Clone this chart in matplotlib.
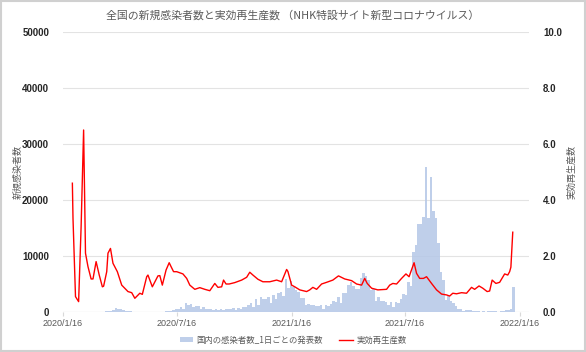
"""全国の新規感染者数と実効再生産数 (NHK) chart."""

import matplotlib

matplotlib.use("Agg")
import matplotlib.pyplot as plt
import numpy as np
import pandas as pd

plt.rcParams["font.family"] = ["Noto Sans CJK JP", "DejaVu Sans"]

# daily new cases, sampled every 4 days from 2020-01-17 to 2022-01-06
case_dates = pd.date_range("2020-01-17", periods=181, freq="4D")
cases = [
    0, 0, 1, 3, 0, 5, 3, 8, 10, 20, 15, 15, 30, 30, 50, 40, 50, 90, 170, 250,
    330, 650, 450, 580, 390, 200, 190, 90, 80, 50, 30, 30, 20, 40, 30, 50, 40, 50, 40, 60,
    80, 90, 250, 210, 400, 450, 510, 980, 600, 1550, 1200, 1500, 970, 1000, 1150, 500, 870, 600, 600, 500,
    440, 520, 370, 550, 400, 560, 520, 460, 720, 310, 750, 620, 860, 860, 1250, 1650, 950, 2300, 1230, 2600,
    2400, 2400, 2750, 1680, 2950, 2290, 3400, 3500, 2900, 5900, 4300, 5600, 4500, 4000, 3600, 2500, 2500, 1220, 1360, 1300,
    1250, 1080, 990, 1170, 600, 1310, 1050, 1480, 1910, 1790, 2600, 1570, 3450, 3450, 4800, 5290, 4600, 4080, 4080, 6050,
    7000, 6420, 5700, 4000, 4130, 1990, 2660, 1980, 1940, 1800, 1300, 1700, 970, 1780, 1540, 2280, 3200, 3100, 5400, 4690,
    10780, 12000, 15750, 15800, 17000, 25900, 16800, 24100, 18000, 16700, 12400, 7200, 5700, 2200, 2870, 2050, 1600, 1130, 600, 620,
    230, 330, 300, 280, 160, 160, 200, 80, 150, 80, 120, 130, 130, 150, 80, 180, 180, 320, 400, 550,
    4470,
]

# effective reproduction number
r_dates = [
    "2020-01-31", "2020-02-01", "2020-02-05", "2020-02-10", "2020-02-14", "2020-02-18", "2020-02-21",
    "2020-02-25", "2020-03-01", "2020-03-04", "2020-03-09", "2020-03-14", "2020-03-19", "2020-03-21",
    "2020-03-26", "2020-03-28", "2020-04-01", "2020-04-05", "2020-04-12", "2020-04-19", "2020-04-29",
    "2020-05-05", "2020-05-10", "2020-05-18", "2020-05-22", "2020-05-29", "2020-05-31", "2020-06-07",
    "2020-06-16", "2020-06-19", "2020-06-23", "2020-06-29", "2020-07-04", "2020-07-07", "2020-07-11",
    "2020-07-16", "2020-07-26", "2020-08-01", "2020-08-06", "2020-08-14", "2020-08-22", "2020-08-30",
    "2020-09-07", "2020-09-15", "2020-09-20", "2020-09-26", "2020-09-29", "2020-10-03", "2020-10-08",
    "2020-10-17", "2020-10-28", "2020-11-05", "2020-11-10", "2020-11-15", "2020-11-23", "2020-12-01",
    "2020-12-12", "2020-12-23", "2020-12-31", "2021-01-08", "2021-01-10", "2021-01-16", "2021-01-21",
    "2021-01-29", "2021-02-09", "2021-02-14", "2021-02-19", "2021-02-25", "2021-03-05", "2021-03-13",
    "2021-03-23", "2021-04-01", "2021-04-11", "2021-04-22", "2021-04-30", "2021-05-08", "2021-05-13",
    "2021-05-17", "2021-05-24", "2021-06-03", "2021-06-17", "2021-06-22", "2021-06-27", "2021-07-03",
    "2021-07-11", "2021-07-18", "2021-07-23", "2021-07-31", "2021-08-04", "2021-08-09", "2021-08-15",
    "2021-08-20", "2021-08-28", "2021-09-05", "2021-09-13", "2021-09-21", "2021-09-26", "2021-10-01",
    "2021-10-07", "2021-10-15", "2021-10-23", "2021-10-31", "2021-11-05", "2021-11-12", "2021-11-18",
    "2021-11-25", "2021-11-29", "2021-12-03", "2021-12-09", "2021-12-15", "2021-12-23", "2021-12-28",
    "2021-12-31", "2022-01-02", "2022-01-05",
]
r_values = [
    4.6, 3.35, 0.55, 0.37, 3.05, 6.5, 2.1,
    1.62, 1.18, 1.18, 1.8, 1.32, 0.9, 0.92,
    1.44, 2.1, 2.27, 1.74, 1.44, 0.96, 0.73,
    0.69, 0.49, 0.67, 0.63, 1.26, 1.32, 0.9,
    1.29, 1.3, 0.96, 1.5, 1.76, 1.62, 1.44,
    1.44, 1.36, 1.2, 0.96, 0.81, 0.87, 0.81,
    0.76, 1.02, 0.88, 0.9, 1.14, 1.0, 1.0,
    1.05, 1.14, 1.24, 1.42, 1.32, 1.17, 1.08,
    1.08, 1.14, 1.08, 1.52, 1.45, 0.96, 0.9,
    0.79, 0.73, 0.79, 0.88, 0.81, 1.0, 1.06,
    1.14, 1.29, 1.18, 1.12, 1.0, 0.96, 1.2,
    1.02, 0.85, 0.79, 0.81, 0.96, 1.02, 1.0,
    1.2, 1.36, 1.26, 1.76, 1.38, 1.2, 1.2,
    1.26, 1.02, 0.79, 0.64, 0.61, 0.57, 0.67,
    0.65, 0.69, 0.67, 0.88, 0.81, 0.93, 0.85,
    0.73, 0.75, 1.14, 1.02, 1.06, 1.36, 1.32,
    1.44, 1.6, 2.85,
]

x_ticks = ["2020-01-16", "2020-07-16", "2021-01-16", "2021-07-16", "2022-01-16"]
x_tick_labels = ["2020/1/16", "2020/7/16", "2021/1/16", "2021/7/16", "2022/1/16"]

TITLE = "全国の新規感染者数と実効再生産数 （NHK特設サイト新型コロナウイルス）"
TEXT = "#595959"


def main() -> None:
    fig = plt.figure(figsize=(5.86, 3.52), dpi=100)
    fig.patch.set_facecolor("white")
    ax = fig.add_axes([63 / 586, 1 - 312 / 352, 466 / 586, 280 / 352])
    ax2 = ax.twinx()

    ax.bar(case_dates, cases, width=3.8, color="#b4c7e7", alpha=0.85, linewidth=0,
           label="国内の感染者数_1日ごとの発表数", zorder=2)
    ax2.plot(pd.to_datetime(r_dates), r_values, color="#ff0000", lw=1.0,
             label="実効再生産数", zorder=3)

    ax.set_xlim(pd.Timestamp("2020-01-16"), pd.Timestamp("2022-01-31"))
    ax.set_ylim(0, 50000)
    ax2.set_ylim(0, 10)
    ax.set_yticks(np.arange(0, 50001, 10000))
    ax2.set_yticks(np.arange(0, 10.1, 2))
    ax2.set_yticklabels([f"{v:.1f}" for v in np.arange(0, 10.1, 2)])
    ax.set_xticks(pd.to_datetime(x_ticks))
    ax.set_xticklabels(x_tick_labels)

    ax.grid(axis="y", color="#e3e3e3", lw=0.8, zorder=0)
    ax.set_axisbelow(True)
    for a in (ax, ax2):
        for spine in a.spines.values():
            spine.set_visible(False)
    ax.axhline(0, color="#d9d9d9", lw=0.8, zorder=1)

    ax.tick_params(axis="y", length=0, pad=10, labelsize=7, labelcolor="#262626")
    ax2.tick_params(axis="y", length=0, pad=10, labelsize=7, labelcolor="#262626")
    for lab in ax.get_yticklabels() + ax2.get_yticklabels():
        lab.set_fontweight("bold")
        lab.set_family(["Liberation Sans", "DejaVu Sans"])
    ax.tick_params(axis="x", length=3, color="#d9d9d9", pad=2, labelsize=6.5, labelcolor=TEXT)
    for lab in ax.get_xticklabels():
        lab.set_family(["Liberation Sans", "DejaVu Sans"])

    ax.set_ylabel("新規感染者数", fontsize=6.5, color=TEXT)
    ax.yaxis.set_label_coords((23 - 63) / 466, 0.5)
    ax2.set_ylabel("実効再生産数", fontsize=6.5, color=TEXT)
    ax2.yaxis.set_label_coords((567 - 63) / 466, 0.5)

    fig.suptitle(TITLE, x=0.5, y=1 - 15 / 352, va="center", fontsize=7.8, color=TEXT)

    handles = [ax.containers[0], ax2.get_lines()[0]]
    labels = [h.get_label() for h in handles]
    fig.legend(handles, labels, loc="center", bbox_to_anchor=(0.5, 1 - 340 / 352), ncol=2,
               frameon=False, fontsize=6, labelcolor=TEXT, handlelength=1.6,
               handleheight=0.5, columnspacing=2.0, handletextpad=0.4)

    border = plt.Rectangle((0.002, 0.003), 0.996, 0.994, transform=fig.transFigure,
                           fill=False, edgecolor="#d0d0d0", lw=1.5)
    fig.add_artist(border)

    fig.savefig("out.png", dpi=100)


if __name__ == "__main__":
    main()
